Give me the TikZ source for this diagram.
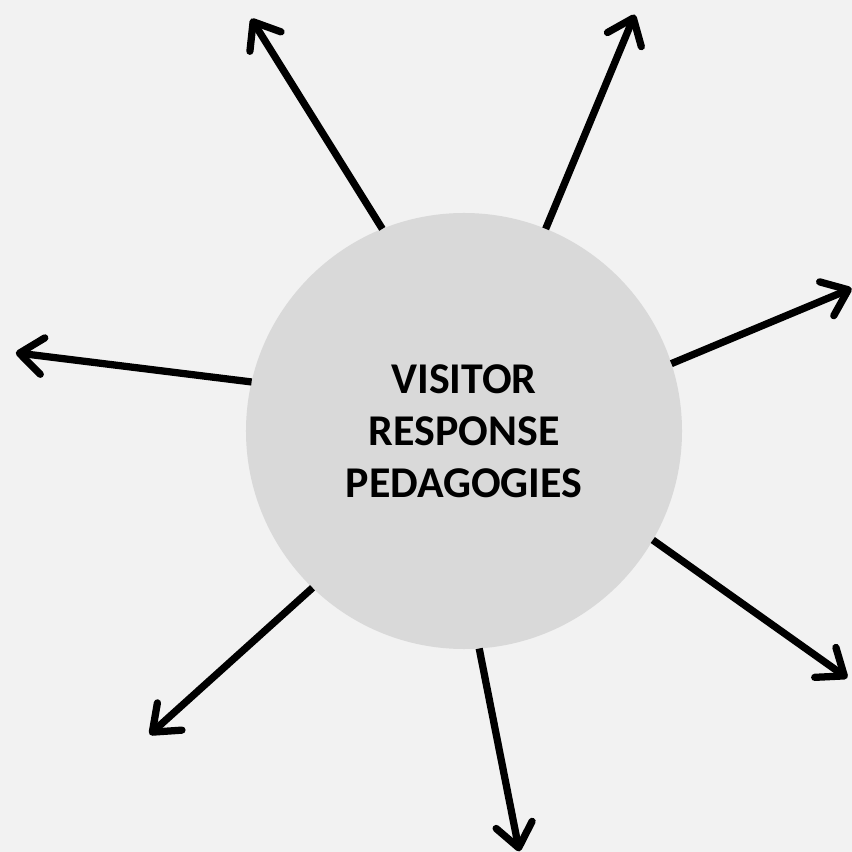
\documentclass[tikz,border=0pt]{standalone}
\usepackage{fontspec}
\setmainfont{Carlito}
\usetikzlibrary{arrows.meta}

\definecolor{pagegray}{HTML}{F2F2F2}
\definecolor{hubgray}{HTML}{D9D9D9}

\begin{document}
\begin{tikzpicture}[x=0.03cm, y=0.03cm,
        hub/.style={circle, fill=hubgray, minimum size=13.08cm, inner sep=0pt, outer sep=0pt,
                align=center, font=\fontsize{37.5}{44.5}\selectfont\bfseries},
        ray/.style={line width=6.2pt, -{Straight Barb[length=0.7cm, width=1.1cm, round]}}]
        \fill[pagegray] (-464,-421) rectangle (388,431);
        \useasboundingbox (-464,-421) rectangle (388,431);

        \node[hub] (hub) at (0,0) {VISITOR\\RESPONSE\\PEDAGOGIES};

        \coordinate (e1) at (117.3:464);
        \coordinate (e2) at (67.7:450);
        \coordinate (e3) at (20.2:413);
        \coordinate (e4) at (170.1:455);
        \coordinate (e5) at (-32.8:456);
        \coordinate (e6) at (-136.0:437);
        \coordinate (e7) at (-82.5:424);

        \draw[ray] (hub.112.6) -- (e1);
        \draw[ray] (hub.68.5) -- (e2);
        \draw[ray] (hub.18.0) -- (e3);
        \draw[ray] (hub.167.4) -- (e4);
        \draw[ray] (hub.-30.9) -- (e5);
        \draw[ray] (hub.-134.6) -- (e6);
        \draw[ray] (hub.-86.1) -- (e7);
\end{tikzpicture}
\end{document}
